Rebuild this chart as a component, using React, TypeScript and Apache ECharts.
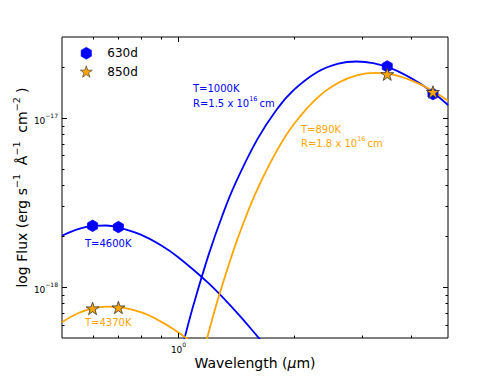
import React, { useEffect, useRef } from 'react';
import * as echarts from 'echarts';

const BLUE = '#0000ff';
const ORANGE = '#ffa500';
const FONT = 'DejaVu Sans';

// Observed photometry: wavelength (micron) and flux (erg s^-1 A^-1 cm^-2)
const wl630 = [0.6, 0.7, 3.48, 4.57];
const flux630 = [2.3e-18, 2.26e-18, 2.01e-17, 1.38e-17];
const wl850 = [0.6, 0.7, 3.48, 4.57];
const flux850 = [7.48e-19, 7.58e-19, 1.81e-17, 1.42e-17];

// Hot component curves
const hot630Wl = [0.5, 0.55, 0.6, 0.65, 0.7, 0.8, 0.9, 1.0, 1.2, 1.4, 1.6, 1.7];
const hot630Flux = [2.01e-18, 2.2e-18, 2.3e-18, 2.31e-18, 2.25e-18, 2.04e-18, 1.77e-18, 1.5e-18, 1.05e-18, 7.3e-19, 5.15e-19, 4.35e-19];
const hot850Wl = [0.5, 0.55, 0.6, 0.65, 0.7, 0.8, 0.9, 1.0, 1.05, 1.1];
const hot850Flux = [6.2e-19, 7.0e-19, 7.48e-19, 7.67e-19, 7.62e-19, 7.1e-19, 6.27e-19, 5.4e-19, 4.98e-19, 4.6e-19];

// Warm dust curves
const warm630Wl = [1.0, 1.04, 1.1, 1.2, 1.3, 1.4, 1.6, 1.8, 2.0, 2.3, 2.6, 2.9, 3.2, 3.6, 4.0, 4.5, 5.0];
const warm630Flux = [3.55e-19, 5.05e-19, 8.1e-19, 1.56e-18, 2.63e-18, 4.0e-18, 7.4e-18, 1.12e-17, 1.47e-17, 1.87e-17, 2.09e-17, 2.15e-17, 2.1e-17, 1.94e-17, 1.72e-17, 1.45e-17, 1.19e-17];
const warm850Wl = [1.15, 1.19, 1.25, 1.3, 1.4, 1.5, 1.6, 1.8, 2.0, 2.3, 2.6, 2.9, 3.25, 3.6, 4.0, 4.5, 5.0];
const warm850Flux = [3.75e-19, 5.05e-19, 7.6e-19, 1.02e-18, 1.72e-18, 2.63e-18, 3.74e-18, 6.37e-18, 9.24e-18, 1.32e-17, 1.61e-17, 1.78e-17, 1.84e-17, 1.8e-17, 1.67e-17, 1.47e-17, 1.26e-17];

// Axis ranges and ticks
const X_MIN = 0.5;
const X_MAX = 5;
const Y_MIN = 5e-19;
const Y_MAX = 3e-17;
const xMajorTicks = [1];
const xMajorLabels = ['0'];
const xMinorTicks = [0.6, 0.7, 0.8, 0.9, 2, 3, 4];
const yMajorTicks = [1e-18, 1e-17];
const yMajorLabels = ['−18', '−17'];
const yMinorTicks = [6e-19, 7e-19, 8e-19, 9e-19, 2e-18, 3e-18, 4e-18, 5e-18, 6e-18, 7e-18, 8e-18, 9e-18, 2e-17];

const zip = (a: number[], b: number[]) => a.map((v, i) => [v, b[i]]);

const HEX = 'path://M0,-1 L0.866,-0.5 L0.866,0.5 L0,1 L-0.866,0.5 L-0.866,-0.5 Z';
const STAR = 'path://M0,-1 L0.2245,-0.309 L0.951,-0.309 L0.3633,0.118 L0.588,0.809 L0,0.382 L-0.588,0.809 L-0.3633,0.118 L-0.951,-0.309 L-0.2245,-0.309 Z';

const tickRich = {
  b: { fontSize: 9, fontFamily: FONT, fill: '#000', lineHeight: 13, verticalAlign: 'bottom' },
  s: { fontSize: 6, fontFamily: FONT, fill: '#000', verticalAlign: 'top' },
};

function tickSeries(kind: 'x' | 'y', values: number[], major: boolean, labels?: string[]) {
  return {
    type: 'custom',
    silent: true,
    clip: false,
    z: 10,
    data: values.map((v) => (kind === 'x' ? [v, 1e-18] : [1, v])),
    renderItem: (params: any, api: any) => {
      const cs = params.coordSys;
      const p = api.coord([api.value(0), api.value(1)]);
      const len = major ? 5 : 2.5;
      const st = { stroke: '#000', lineWidth: 1 };
      const children: any[] = [];
      if (kind === 'x') {
        const x = Math.round(p[0]) + 0.5;
        const yb = cs.y + cs.height;
        children.push({ type: 'line', shape: { x1: x, y1: yb, x2: x, y2: yb - len }, style: st });
        children.push({ type: 'line', shape: { x1: x, y1: cs.y, x2: x, y2: cs.y + len }, style: st });
        if (labels) {
          children.push({
            type: 'text',
            x: x,
            y: yb + 3,
            style: { text: `{b|10}{s|${labels[params.dataIndex]}}`, rich: tickRich, align: 'center', verticalAlign: 'top' },
          });
        }
      } else {
        const y = Math.round(p[1]) + 0.5;
        const xr = cs.x + cs.width;
        children.push({ type: 'line', shape: { x1: cs.x, y1: y, x2: cs.x + len, y2: y }, style: st });
        children.push({ type: 'line', shape: { x1: xr, y1: y, x2: xr - len, y2: y }, style: st });
        if (labels) {
          children.push({
            type: 'text',
            x: cs.x - 4,
            y: y,
            style: { text: `{b|10}{s|${labels[params.dataIndex]}}`, rich: tickRich, align: 'right', verticalAlign: 'middle' },
          });
        }
      }
      return { type: 'group', children };
    },
  };
}

const annRich = (color: string) => ({
  b: { fontSize: 10, fontFamily: FONT, fill: color, lineHeight: 13, verticalAlign: 'bottom' },
  s: { fontSize: 6.5, fontFamily: FONT, fill: color, verticalAlign: 'top', padding: [0, 2, 0, 0] },
});

function annText(left: number, cy: number, text: string, color: string) {
  return {
    type: 'text',
    left,
    top: cy - 6.5,
    silent: true,
    style: { text, rich: annRich(color), fill: color, fontSize: 10, fontFamily: FONT },
  };
}

export default function App() {
  const ref = useRef<HTMLDivElement>(null);
  useEffect(() => {
    if (!ref.current) return;
    const chart = echarts.init(ref.current, undefined, { renderer: 'svg' });
    const lineCommon = { type: 'line', showSymbol: false, symbol: 'none', smooth: 0.4, silent: true, z: 2 };
    chart.setOption({
      animation: false,
      backgroundColor: '#fff',
      grid: { left: 62, top: 37, right: 50, bottom: 39, show: true, borderColor: '#000', borderWidth: 1, backgroundColor: 'transparent' },
      legend: {
        data: [
          { name: '630d', icon: HEX, itemStyle: { color: BLUE, borderColor: BLUE, borderWidth: 0.5 } },
          { name: '850d', icon: STAR, itemStyle: { color: ORANGE, borderColor: '#333', borderWidth: 0.6 } },
        ],
        orient: 'vertical',
        left: 80,
        top: 47,
        padding: 0,
        itemWidth: 12,
        itemHeight: 12,
        itemGap: 6,
        textStyle: { fontSize: 12, fontFamily: FONT, color: '#000', padding: [0, 0, 0, 10] },
      },
      xAxis: {
        type: 'log',
        logBase: 10,
        min: X_MIN,
        max: X_MAX,
        axisLine: { show: false },
        axisTick: { show: false },
        axisLabel: { show: false },
        splitLine: { show: false },
        minorTick: { show: false },
        name: '{b|Wavelength (}{i|μ}{b|m)}',
        nameLocation: 'middle',
        nameGap: 18,
        nameTextStyle: {
          rich: {
            b: { fontSize: 14, fontFamily: FONT, color: '#000' },
            i: { fontSize: 14, fontFamily: FONT, color: '#000', fontStyle: 'italic' },
          },
        },
      },
      yAxis: {
        type: 'log',
        logBase: 10,
        min: Y_MIN,
        max: Y_MAX,
        axisLine: { show: false },
        axisTick: { show: false },
        axisLabel: { show: false },
        splitLine: { show: false },
        minorTick: { show: false },
        name: '{b|log Flux (erg s}{s|−1}{b|  Å}{s|−1}{b|  cm}{s|−2}{b| )}',
        nameLocation: 'middle',
        nameRotate: 90,
        nameGap: 33,
        nameTextStyle: {
          rich: {
            b: { fontSize: 14, fontFamily: FONT, color: '#000', lineHeight: 18, verticalAlign: 'bottom' },
            s: { fontSize: 9.5, fontFamily: FONT, color: '#000', verticalAlign: 'top' },
          },
        },
      },
      graphic: [
        annText(193, 90, '{b|T=1000K}', BLUE),
        annText(193, 101.5, '{b|R=1.5 x 10}{s|16}{b|cm}', BLUE),
        annText(301, 130.5, '{b|T=890K}', ORANGE),
        annText(301, 142, '{b|R=1.8 x 10}{s|16}{b|cm}', ORANGE),
        annText(85, 244.5, '{b|T=4600K}', BLUE),
        annText(85, 323.5, '{b|T=4370K}', ORANGE),
      ],
      series: [
        { ...lineCommon, name: 'hot630', data: zip(hot630Wl, hot630Flux), lineStyle: { color: BLUE, width: 1.8 } },
        { ...lineCommon, name: 'warm630', data: zip(warm630Wl, warm630Flux), lineStyle: { color: BLUE, width: 1.8 } },
        { ...lineCommon, name: 'hot850', data: zip(hot850Wl, hot850Flux), lineStyle: { color: ORANGE, width: 1.8 } },
        { ...lineCommon, name: 'warm850', data: zip(warm850Wl, warm850Flux), lineStyle: { color: ORANGE, width: 1.8 } },
        {
          type: 'scatter',
          name: '630d',
          data: zip(wl630, flux630),
          symbol: HEX,
          symbolSize: [10, 11.5],
          itemStyle: { color: BLUE, borderColor: BLUE, borderWidth: 0.8, opacity: 1 },
          z: 4,
          silent: true,
        },
        {
          type: 'scatter',
          name: '850d',
          data: zip(wl850, flux850),
          symbol: STAR,
          symbolSize: [13, 12.5],
          itemStyle: { color: ORANGE, borderColor: '#333', borderWidth: 0.8, opacity: 1 },
          z: 5,
          silent: true,
        },
        tickSeries('x', xMajorTicks, true, xMajorLabels),
        tickSeries('x', xMinorTicks, false),
        tickSeries('y', yMajorTicks, true, yMajorLabels),
        tickSeries('y', yMinorTicks, false),
      ],
    });
    return () => chart.dispose();
  }, []);
  return <div ref={ref} style={{ position: 'fixed', left: 0, top: 0, width: 498, height: 377 }} />;
}
